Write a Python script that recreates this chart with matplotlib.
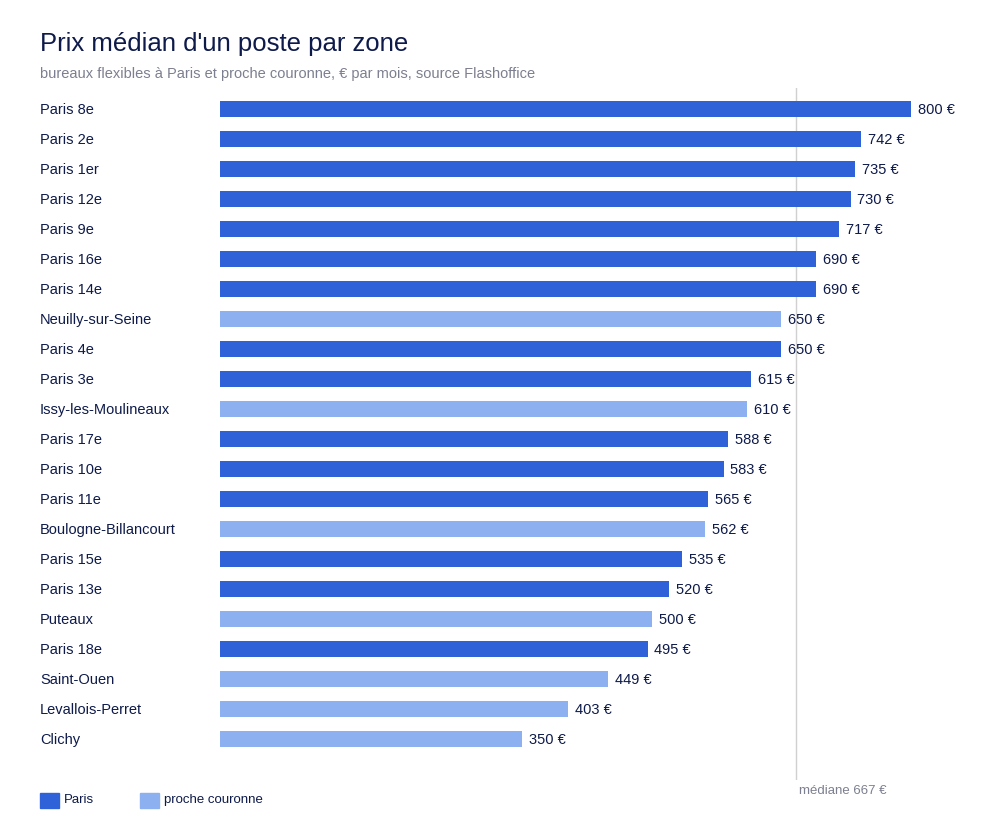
import matplotlib.pyplot as plt
from matplotlib.patches import Rectangle

plt.rcParams['font.family'] = ['Liberation Sans', 'DejaVu Sans']

zones = ['Paris 8e', 'Paris 2e', 'Paris 1er', 'Paris 12e', 'Paris 9e', 'Paris 16e',
         'Paris 14e', 'Neuilly-sur-Seine', 'Paris 4e', 'Paris 3e', 'Issy-les-Moulineaux',
         'Paris 17e', 'Paris 10e', 'Paris 11e', 'Boulogne-Billancourt', 'Paris 15e',
         'Paris 13e', 'Puteaux', 'Paris 18e', 'Saint-Ouen', 'Levallois-Perret', 'Clichy']
prix = [800, 742, 735, 730, 717, 690, 690, 650, 650, 615, 610, 588, 583, 565, 562,
        535, 520, 500, 495, 449, 403, 350]
is_paris = [z.startswith('Paris') for z in zones]
mediane = 667

c_paris = '#2f62d8'
c_couronne = '#8db0f0'
navy = '#0d1a4a'
gray = '#7c7f8f'

W, H = 1000, 826
fig = plt.figure(figsize=(W / 100, H / 100), dpi=100)
ax = fig.add_axes([220 / W, 1 - 780 / H, (911 - 220) / W, (780 - 88) / H])

ys = list(range(len(zones)))
colors = [c_paris if p else c_couronne for p in is_paris]
ax.barh(ys, prix, height=0.56, color=colors)
for y, v in zip(ys, prix):
    ax.text(v + 8, y + 0.05, f'{v} €', va='center', ha='left', fontsize=10.5, color=navy, clip_on=False)
    ax.text(-180 / 0.864, y + 0.05, zones[y], va='center', ha='left', fontsize=10.5, color=navy, clip_on=False)

ax.axvline(mediane, color='#d0d0d0', lw=1, zorder=0)
ax.set_xlim(0, 800)
ax.set_ylim(22.37, -0.7)
ax.axis('off')

fig.text(40 / W, 1 - 44 / H, "Prix médian d'un poste par zone", fontsize=18.5, color=navy, va='center')
fig.text(40 / W, 1 - 74 / H, "bureaux flexibles à Paris et proche couronne, € par mois, source Flashoffice",
         fontsize=10.5, color=gray, va='center')
fig.text(799 / W, 1 - 791 / H, 'médiane 667 €', fontsize=9.5, color=gray, va='center')

for x0, col, lab in [(40, c_paris, 'Paris'), (140, c_couronne, 'proche couronne')]:
    fig.patches.append(Rectangle((x0 / W, 1 - 808 / H), 19 / W, 15 / H, color=col,
                                 transform=fig.transFigure, figure=fig))
    fig.text((x0 + 24) / W, 1 - 800 / H, lab, fontsize=9.5, color=navy, va='center')

fig.savefig('out.png', dpi=100)
